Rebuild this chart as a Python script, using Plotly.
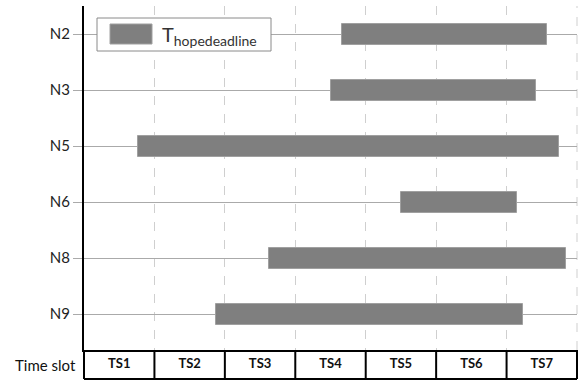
import plotly.graph_objects as go

nodes = ["N2", "N3", "N5", "N6", "N8", "N9"]
start = [3.66, 3.50, 0.76, 4.50, 2.63, 1.87]
end = [6.58, 6.42, 6.74, 6.15, 6.84, 6.24]
slots = ["TS1", "TS2", "TS3", "TS4", "TS5", "TS6", "TS7"]
legend_label = "T<sub>hopedeadline</sub>"

W, H = 584, 390
ml, mr, mt, mb = 84, 7, 6, 40
plot_w = W - ml - mr
plot_h = H - mt - mb
row_px = 56.0
ypos = list(range(len(nodes)))
y_top = -(28 / row_px)
y_bot = (len(nodes) - 1) + (36 / row_px)
table_h = 29 / plot_h


def px(xp):
    return (xp - ml) / plot_w


def py(yp):
    return 1 - (yp - mt) / plot_h


bar_color = "#7f7f7f"

fig = go.Figure()
fig.add_trace(go.Bar(
    orientation="h", y=ypos, x=[e - s for s, e in zip(start, end)], base=start,
    width=21 / row_px, marker=dict(color=bar_color, line=dict(color="#a0a0a0", width=1)),
    showlegend=False, hoverinfo="skip",
))

shapes = []
# right-edge dashed slot boundary
shapes.append(dict(type="line", xref="paper", yref="paper", x0=1, x1=1, y0=0, y1=1,
                   line=dict(color="#cfcfcf", width=1, dash="dash"), layer="below"))
for i in range(len(slots) + 1):
    shapes.append(dict(type="line", xref="paper", yref="paper", x0=i / len(slots), x1=i / len(slots),
                       y0=-table_h, y1=0, line=dict(color="black", width=2)))
shapes.append(dict(type="line", xref="paper", yref="paper", x0=0, x1=1, y0=-table_h, y1=-table_h,
                   line=dict(color="black", width=2)))
# legend box and swatch
shapes.append(dict(type="rect", xref="paper", yref="paper", x0=px(97), x1=px(271), y0=py(51), y1=py(18),
                   line=dict(color="#8a8a8a", width=1), fillcolor="white", layer="above"))
shapes.append(dict(type="rect", xref="paper", yref="paper", x0=px(110), x1=px(152), y0=py(44), y1=py(24),
                   line=dict(color="#a0a0a0", width=1), fillcolor=bar_color, layer="above"))

fig.update_layout(
    width=W, height=H, margin=dict(l=ml, r=mr, t=mt, b=mb),
    paper_bgcolor="white", plot_bgcolor="white",
    font=dict(family="Lato", color="#222222"),
    shapes=shapes,
    showlegend=False,
    annotations=[
        dict(text="Time slot", xref="paper", yref="paper", x=px(78),
             y=-table_h / 2, xanchor="right", yanchor="middle", showarrow=False,
             font=dict(size=15, family="Lato", color="#111111")),
        dict(text=legend_label, xref="paper", yref="paper", x=px(160), y=py(35),
             xanchor="left", yanchor="middle", showarrow=False,
             font=dict(size=20, family="Lato", color="#333333")),
    ],
    bargap=0,
)
fig.update_xaxes(range=[0, len(slots)], tickvals=[i + 0.5 for i in range(len(slots))], ticktext=slots,
                 ticks="", showgrid=False, zeroline=False, showline=True, linecolor="black", linewidth=2,
                 tickfont=dict(size=13, family="Lato", color="#111111", weight="bold"),
                 minor=dict(tickvals=list(range(1, len(slots) + 1)), showgrid=True, griddash="dash",
                            gridcolor="#cfcfcf", gridwidth=1, ticks=""),
                 fixedrange=True)
fig.update_yaxes(range=[y_bot, y_top], tickvals=ypos, ticktext=nodes, showgrid=True, gridcolor="#aaaaaa",
                 gridwidth=1, ticks="outside", ticklen=9, tickcolor="#aaaaaa", zeroline=False,
                 showline=True, linecolor="black", linewidth=2,
                 tickfont=dict(size=15, family="Lato", color="#222222"), fixedrange=True)

fig.write_html("out.html")
